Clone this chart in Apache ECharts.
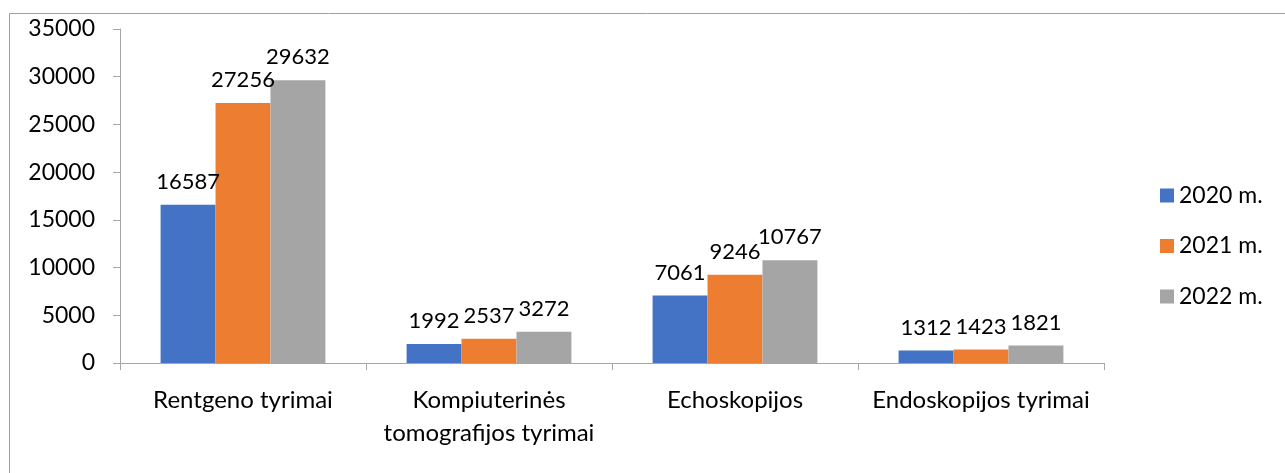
<!DOCTYPE html>
<html>
<head>
<meta charset="utf-8">
<script src="https://cdn.jsdelivr.net/npm/echarts@6/dist/echarts.min.js"></script>
<style>html,body{margin:0;padding:0;background:#fff}#c{width:1285px;height:473px}</style>
</head>
<body>
<div id="c"></div>
<script>
var categories = ['Rentgeno tyrimai', 'Kompiuterinės\ntomografijos tyrimai', 'Echoskopijos', 'Endoskopijos tyrimai'];
var seriesNames = ['2020 m.', '2021 m.', '2022 m.'];
var values2020 = [16587, 1992, 7061, 1312];
var values2021 = [27256, 2537, 9246, 1423];
var values2022 = [29632, 3272, 10767, 1821];
var colors = ['#4472C4', '#ED7D31', '#A5A5A5'];
var yTicks = { min: 0, max: 35000, interval: 5000 };

var font = 'Lato';
var chart = echarts.init(document.getElementById('c'), null, { renderer: 'canvas' });
var data = [values2020, values2021, values2022];
chart.setOption({
  animation: false,
  textStyle: { fontFamily: font },
  graphic: [{
    type: 'rect', left: 7, top: 11, shape: { width: 1400, height: 600 },
    style: { fill: 'none', stroke: '#a0a0a0', lineWidth: 1 }, silent: true, z: -1
  }],
  grid: { left: 120, right: 181, top: 29, bottom: 110, containLabel: false },
  legend: {
    orient: 'vertical', left: 1155, top: 179,
    itemWidth: 14, itemHeight: 14, itemGap: 27.5,
    icon: 'rect',
    textStyle: { fontFamily: font, fontSize: 23, color: '#000' },
    data: seriesNames
  },
  xAxis: {
    type: 'category', data: categories,
    axisLine: { lineStyle: { color: '#a6a6a6', width: 1 } },
    axisTick: { show: true, length: 7, lineStyle: { color: '#a6a6a6' } },
    axisLabel: { fontFamily: font, fontSize: 24, color: '#000', margin: 21, lineHeight: 33, interval: 0 }
  },
  yAxis: {
    type: 'value', min: yTicks.min, max: yTicks.max, interval: yTicks.interval,
    axisLine: { show: true, lineStyle: { color: '#a6a6a6', width: 1 } },
    axisTick: { show: true, length: 7, lineStyle: { color: '#a6a6a6' } },
    splitLine: { show: false },
    axisLabel: { fontFamily: font, fontSize: 23, color: '#000', margin: 25, formatter: function (v) { return String(v); } }
  },
  series: seriesNames.map(function (n, i) {
    return {
      name: n, type: 'bar', data: data[i],
      barGap: '0%', barCategoryGap: '33%',
      itemStyle: { color: colors[i] },
      label: { show: true, position: 'top', distance: 12, fontFamily: font, fontSize: 22, color: '#000' }
    };
  })
});
</script>
</body>
</html>
